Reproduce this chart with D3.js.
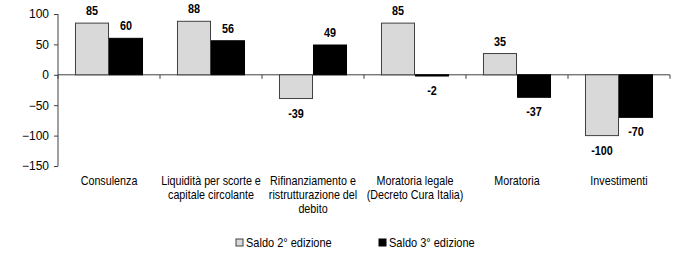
<!DOCTYPE html>
<html>
<head>
<meta charset="utf-8">
<script src="https://cdn.jsdelivr.net/npm/d3@7"></script>
<style>
  body { margin: 0; background: #fff; }
  svg { font-family: "Liberation Sans", Arial, sans-serif; }
  .axis path, .axis line { stroke: #404040; }
  .axis text { font-size: 12px; fill: #000; }
</style>
</head>
<body>
<svg width="700" height="256"></svg>
<script>
var categories = [
    ["Consulenza"],
    ["Liquidità per scorte e", "capitale circolante"],
    ["Rifinanziamento e", "ristrutturazione del", "debito"],
    ["Moratoria legale", "(Decreto Cura Italia)"],
    ["Moratoria"],
    ["Investimenti"]
];
var saldo2 = [85, 88, -39, 85, 35, -100];
var saldo3 = [60, 56, 49, -2, -37, -70];
var seriesNames = ["Saldo 2° edizione", "Saldo 3° edizione"];
var yTicks = [100, 50, 0, -50, -100, -150];

var svg = d3.select("svg"),
    margin = { left: 58, right: 30, top: 14, bottom: 90 },
    width = 670 - margin.left,
    height = 166 - margin.top;

var g = svg.append("g")
    .attr("transform", "translate(" + margin.left + "," + margin.top + ")");

var x = d3.scaleBand()
    .domain(d3.range(categories.length))
    .range([0, width])
    .paddingInner(0.333)
    .paddingOuter(0.1665);

var x0 = d3.scaleBand()
    .domain(d3.range(categories.length))
    .range([0, width]);

var x1 = d3.scaleBand()
    .domain([0, 1])
    .range([0, x.bandwidth()]);

var y = d3.scaleLinear()
    .domain([-150, 100])
    .range([height, 0]);

// y axis
g.append("g")
    .attr("class", "axis")
    .call(d3.axisLeft(y).tickValues(yTicks).tickSize(4).tickSizeOuter(0).tickPadding(5))
    .call(function (a) { a.select(".domain").attr("d", "M0," + y(100) + "V" + y(-150)); });

// zero line with category ticks
var xa = g.append("g")
    .attr("class", "axis")
    .attr("transform", "translate(0," + y(0) + ")");
xa.append("line").attr("x1", 0).attr("x2", width).attr("stroke", "#404040");
xa.selectAll(".tk")
    .data(d3.range(categories.length + 1))
    .enter().append("line")
    .attr("x1", function (d) { return d < categories.length ? x0(d) : width; })
    .attr("x2", function (d) { return d < categories.length ? x0(d) : width; })
    .attr("y1", 0).attr("y2", 4)
    .attr("stroke", "#404040");

var series = [
    { values: saldo2, fill: "#d9d9d9", stroke: "#404040" },
    { values: saldo3, fill: "#000000", stroke: "#000000" }
];

series.forEach(function (s, si) {
    g.selectAll(".bar" + si)
        .data(s.values)
        .enter().append("rect")
        .attr("x", function (d, i) { return x(i) + x1(si) + 0.5; })
        .attr("width", x1.bandwidth() - 1)
        .attr("y", function (d) { return y(Math.max(0, d)); })
        .attr("height", function (d) { return Math.abs(y(d) - y(0)); })
        .attr("fill", s.fill)
        .attr("stroke", s.stroke)
        .attr("stroke-width", 1);

    g.selectAll(".lab" + si)
        .data(s.values)
        .enter().append("text")
        .attr("transform", function (d, i) {
            var cx = x(i) + x1(si) + x1.bandwidth() / 2;
            var cy = d >= 0 ? y(d) - 8 : y(d) + 19;
            return "translate(" + cx + "," + cy + ") scale(0.9,1)";
        })
        .attr("text-anchor", "middle")
        .attr("font-size", "12px")
        .attr("font-weight", "bold")
        .text(function (d) { return d; });
});

// category labels (narrow look)
var cl = g.selectAll(".cat")
    .data(categories)
    .enter().append("text")
    .attr("text-anchor", "middle")
    .attr("font-size", "12.5px")
    .attr("transform", function (d, i) {
        return "translate(" + (x0(i) + x0.bandwidth() / 2) + "," + (173 - margin.top) + ") scale(0.86,1)";
    });
cl.selectAll("tspan")
    .data(function (d) { return d; })
    .enter().append("tspan")
    .attr("x", 0)
    .attr("dy", function (d, j) { return j === 0 ? "1em" : "1.12em"; })
    .text(function (d) { return d; });

// legend
var legendX = [236, 379];
var lg = svg.selectAll(".lg")
    .data(seriesNames)
    .enter().append("g")
    .attr("transform", function (d, i) { return "translate(" + legendX[i] + ",239)"; });
lg.append("rect")
    .attr("width", 7).attr("height", 7)
    .attr("fill", function (d, i) { return series[i].fill; })
    .attr("stroke", function (d, i) { return series[i].stroke; });
lg.append("text")
    .attr("transform", "translate(10,8) scale(0.88,1)")
    .attr("font-size", "12.5px")
    .text(function (d) { return d; });
</script>
</body>
</html>
